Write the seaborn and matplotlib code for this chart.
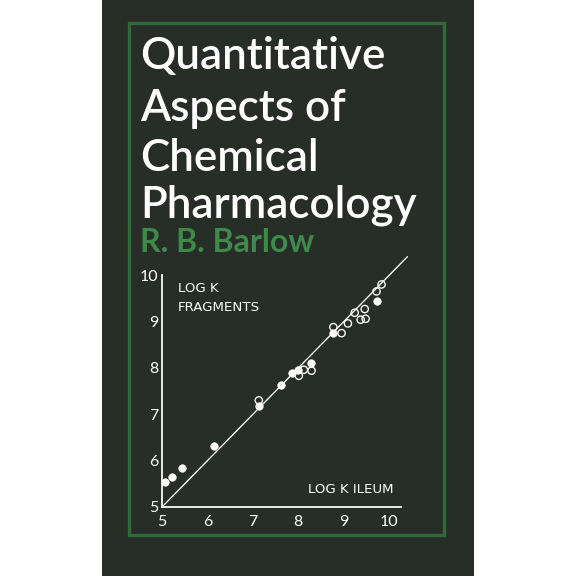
import matplotlib.pyplot as plt
import seaborn as sns
from matplotlib.patches import Rectangle

# filled circles (log K ileum, log K fragments)
filled_x = [5.07, 5.23, 5.45, 6.15, 7.13, 7.61, 7.86, 7.99, 8.27, 8.77, 9.73]
filled_y = [5.55, 5.65, 5.85, 6.32, 7.17, 7.63, 7.89, 7.96, 8.10, 8.75, 9.45]
# open circles
open_x = [7.13, 8.01, 8.12, 8.29, 8.77, 8.95, 9.09, 9.24, 9.37, 9.48, 9.46, 9.72, 9.83]
open_y = [7.30, 7.83, 7.96, 7.94, 8.88, 8.75, 8.96, 9.19, 9.04, 9.06, 9.27, 9.65, 9.80]
ticks = [5, 6, 7, 8, 9, 10]
line_xy = [5, 10.4]

bg = '#272d27'
green = '#2f6a3a'
sns.set_style('white')
plt.rcParams['font.family'] = ['Lato', 'DejaVu Sans']

fig = plt.figure(figsize=(6, 6), dpi=96)
fig.patch.set_facecolor('white')
fig.patches.append(Rectangle((102/576, 0), 372/576, 1, transform=fig.transFigure,
                             facecolor=bg, edgecolor='none', zorder=-2))
fig.patches.append(Rectangle((129/576, 1-535/576), 315/576, 512/576, transform=fig.transFigure,
                             facecolor='none', edgecolor=green, lw=2.5, zorder=-1))

for i, (line, yb) in enumerate(zip(['Quantitative', 'Aspects of', 'Chemical', 'Pharmacology'],
                                   [69, 121, 171, 218])):
    fig.text(140/576, 1-yb/576, line, color='white', fontsize=33,
             fontweight='semibold', ha='left', va='baseline')
fig.text(140/576, 1-252/576, 'R. B. Barlow', color='#3f8a4a', fontsize=24,
         fontweight='bold', ha='left', va='baseline')

ax = fig.add_axes([162/576, 1-507/576, 250/576, 255/576])
ax.set_facecolor('none')
ax.set_zorder(2)
ax.plot(line_xy, line_xy, color='white', lw=1)
sns.scatterplot(x=filled_x, y=filled_y, ax=ax, color='white', s=32, edgecolor='white')
sns.scatterplot(x=open_x, y=open_y, ax=ax, facecolor='none', edgecolor='white', s=30, linewidth=1)
ax.set_xlim(5, 10.5)
ax.set_ylim(5, 10.5)
ax.set_xticks(ticks)
ax.set_yticks(ticks)
for s in ['top', 'right']:
    ax.spines[s].set_visible(False)
for s in ['left', 'bottom']:
    ax.spines[s].set_color('white')
    ax.spines[s].set_linewidth(1.3)
ax.spines['left'].set_bounds(5, 10)
ax.spines['bottom'].set_bounds(5, 10.25)
ax.tick_params(colors='white', labelsize=12, length=4, direction='in', pad=3)
ax.tick_params(axis='x', direction='in', length=4, pad=6)
ax.text(5.35, 9.85, 'LOG K\nFRAGMENTS', color='white', fontsize=10, va='top',
        family=['DejaVu Sans'], linespacing=1.6)
ax.text(10.1, 5.3, 'LOG K ILEUM', color='white', fontsize=10, ha='right',
        family=['DejaVu Sans'])

fig.savefig('out.png', dpi=96)
